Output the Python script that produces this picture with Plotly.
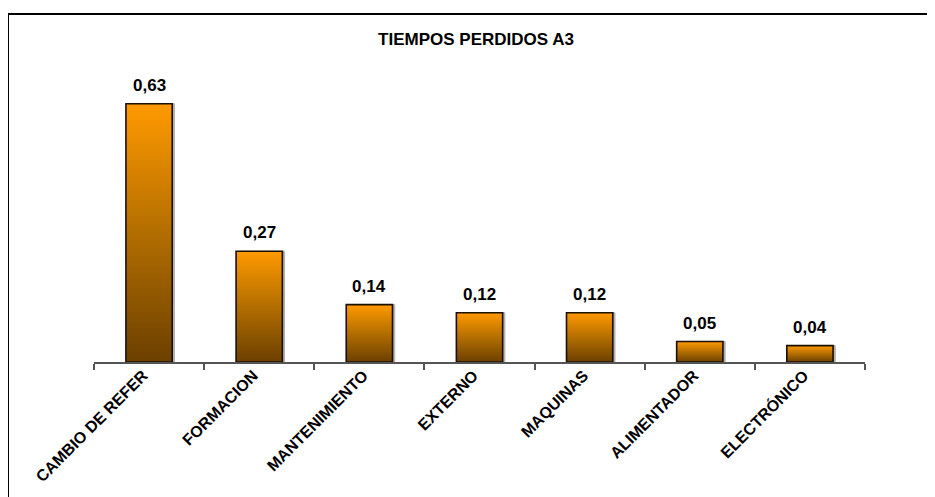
import plotly.graph_objects as go

categories = ["CAMBIO DE REFER", "FORMACION", "MANTENIMIENTO", "EXTERNO",
              "MAQUINAS", "ALIMENTADOR", "ELECTRÓNICO"]
values = [0.63, 0.27, 0.14, 0.12, 0.12, 0.05, 0.04]
title_text = "TIEMPOS PERDIDOS A3"

FONT = "Liberation Sans, Arial, sans-serif"
half_w = 0.21
shadow_dx = 0.02

# page offset (body margin) compensation
OFF = 8
L, R, T, B = 94 - OFF, 935 - (865 - OFF), 75 - OFF, 497 - (362 - OFF)
PW = 935 - L - R
PH = 497 - T - B

fig = go.Figure()
# shadows
for i, v in enumerate(values):
    fig.add_trace(go.Scatter(
        x=[i - half_w + shadow_dx, i - half_w + shadow_dx, i + half_w + shadow_dx,
           i + half_w + shadow_dx, i - half_w + shadow_dx],
        y=[0, v, v, 0, 0], mode="lines", fill="toself",
        fillcolor="#b0b0b0", line=dict(color="#b0b0b0", width=1),
        hoverinfo="skip", showlegend=False))
# gradient bars
for i, v in enumerate(values):
    fig.add_trace(go.Scatter(
        x=[i - half_w, i - half_w, i + half_w, i + half_w, i - half_w],
        y=[0, v, v, 0, 0], mode="lines", fill="toself",
        fillgradient=dict(type="vertical",
                          colorscale=[[0, "#6C4000"], [0.5, "#B36E00"], [1, "#FF9A00"]]),
        line=dict(color="#1a1000", width=1.6),
        hoverinfo="skip", showlegend=False, name=categories[i]))

annotations = [dict(x=i, y=v, xref="x", yref="y", text=f"{v:.2f}".replace(".", ","),
                    showarrow=False, yanchor="bottom", yshift=7,
                    font=dict(family=FONT, size=17, color="black", weight="bold"))
               for i, v in enumerate(values)]

fig.update_layout(
    width=935, height=497,
    margin=dict(l=L, r=R, t=T, b=B),
    paper_bgcolor="white", plot_bgcolor="white",
    separators=", ",
    showlegend=False,
    title=dict(text=title_text, x=(476 - OFF) / 935, xanchor="center",
               y=1 - (39 - OFF) / 497, yanchor="middle",
               font=dict(family=FONT, size=17, color="black", weight="bold")),
    xaxis=dict(range=[-0.5, len(categories) - 0.5], tickmode="array",
               tickvals=list(range(len(categories))), ticktext=categories,
               tickangle=-45, ticks="", showgrid=False, zeroline=False,
               showline=True, linecolor="#555555", linewidth=2,
               ticklabelshift=-6, ticklabelstandoff=-4,
               tickfont=dict(family=FONT, size=16, color="black", weight="bold"),
               minor=dict(tick0=0.5, dtick=1, ticks="outside", ticklen=6,
                          tickwidth=1.5, tickcolor="#555555", showgrid=False)),
    yaxis=dict(range=[0, 0.7], visible=False, fixedrange=True),
    annotations=annotations,
    shapes=[dict(type="rect", xref="paper", yref="paper",
                 x0=(8 - 94) / PW, x1=1.3, y0=-0.8, y1=(362 - 14) / PH,
                 line=dict(color="black", width=2), fillcolor="rgba(0,0,0,0)",
                 layer="below")],
)

fig.write_html("out.html")
